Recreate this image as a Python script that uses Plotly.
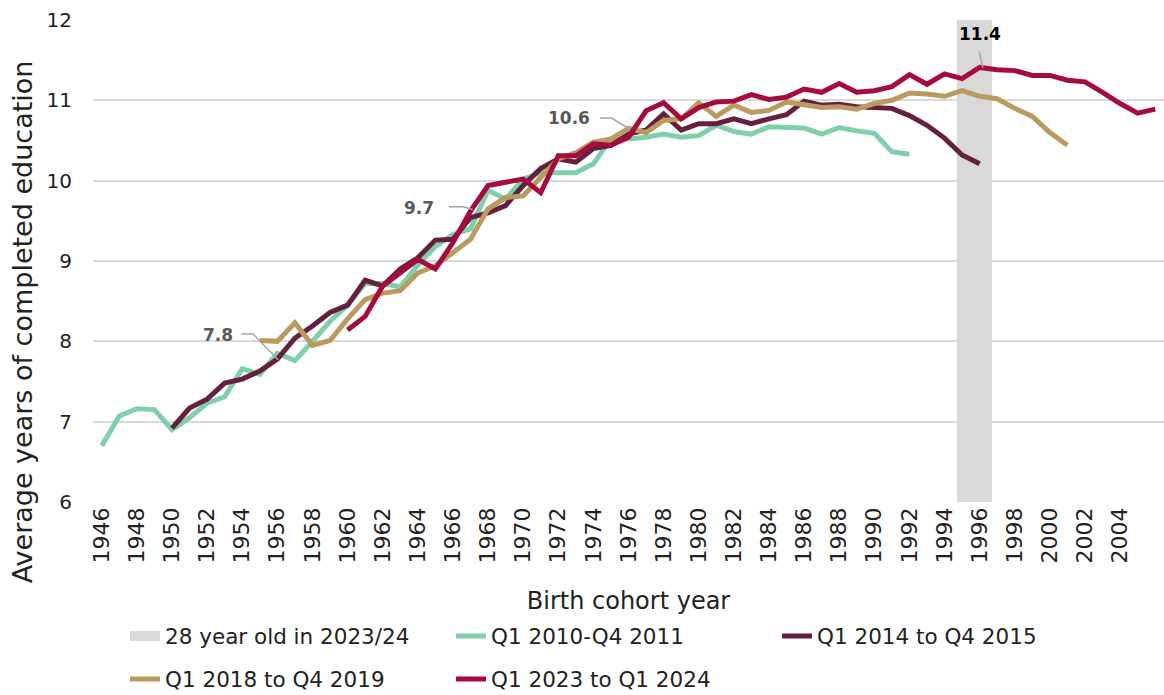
import plotly.graph_objects as go

green_years = list(range(1946, 1993))
green_vals = [6.70, 7.07, 7.16, 7.15, 6.90, 7.05, 7.23, 7.31, 7.66, 7.59,
              7.85, 7.76, 8.00, 8.25, 8.45, 8.72, 8.72, 8.68, 8.95, 9.18,
              9.33, 9.40, 9.88, 9.77, 10.02, 10.10, 10.10, 10.10, 10.21, 10.52,
              10.52, 10.54, 10.58, 10.54, 10.56, 10.69, 10.61, 10.58, 10.67, 10.67,
              10.655, 10.58, 10.66, 10.62, 10.59, 10.36, 10.33]

dark_years = list(range(1950, 1997))
dark_vals = [6.92, 7.17, 7.28, 7.48, 7.53, 7.63, 7.78, 8.04, 8.19, 8.36,
             8.45, 8.76, 8.69, 8.90, 9.04, 9.26, 9.27, 9.54, 9.60, 9.69,
             9.94, 10.15, 10.27, 10.23, 10.40, 10.44, 10.58, 10.63, 10.83, 10.63,
             10.71, 10.71, 10.77, 10.71, 10.77, 10.82, 10.99, 10.94, 10.95, 10.92,
             10.91, 10.90, 10.81, 10.69, 10.53, 10.32, 10.21]

tan_years = list(range(1955, 2002))
tan_vals = [8.01, 8.00, 8.23, 7.95, 8.01, 8.28, 8.52, 8.60, 8.63, 8.85,
            8.94, 9.10, 9.27, 9.65, 9.79, 9.81, 10.04, 10.27, 10.35, 10.48,
            10.52, 10.65, 10.60, 10.75, 10.77, 10.97, 10.80, 10.94, 10.85, 10.875,
            10.98, 10.94, 10.91, 10.92, 10.89, 10.96, 11.00, 11.09, 11.08, 11.05,
            11.12, 11.05, 11.02, 10.90, 10.80, 10.60, 10.44]

red_years = list(range(1960, 2007))
red_vals = [8.14, 8.31, 8.69, 8.85, 9.02, 8.90, 9.23, 9.62, 9.94, 9.98,
            10.02, 9.85, 10.31, 10.31, 10.46, 10.44, 10.54, 10.87, 10.97, 10.77,
            10.91, 10.98, 10.99, 11.07, 11.01, 11.04, 11.14, 11.10, 11.21, 11.10,
            11.12, 11.17, 11.32, 11.20, 11.33, 11.27, 11.41, 11.38, 11.37, 11.31,
            11.31, 11.25, 11.23, 11.10, 10.96, 10.84, 10.89]

band_x = [1994.7, 1996.7]
y_range = [6, 12]
y_ticks = [6, 7, 8, 9, 10, 11, 12]
tick_years = list(range(1946, 2005, 2))

names = ["28 year old in 2023/24", "Q1 2010-Q4 2011", "Q1 2014 to Q4 2015",
         "Q1 2018 to Q4 2019", "Q1 2023 to Q1 2024"]
colors = {"band": "#d9d9d9", "green": "#7fcfab", "dark": "#64203e",
          "tan": "#bb9a60", "red": "#a50b3c"}

FONT = "DejaVu Sans"
TXT = "#222222"

fig = go.Figure()

# shaded band (28 year olds in 2023/24)
fig.add_trace(go.Scatter(
    x=[band_x[0], band_x[1], band_x[1], band_x[0], band_x[0]],
    y=[y_range[0], y_range[0], y_range[1], y_range[1], y_range[0]],
    fill="toself", fillcolor=colors["band"], line=dict(width=0),
    mode="lines", showlegend=False, hoverinfo="skip"))
fig.add_trace(go.Scatter(
    x=[None], y=[None], mode="lines", name=names[0], legend="legend",
    line=dict(color=colors["band"], width=14)))

series = [(green_years, green_vals, "green", names[1], "legend"),
          (dark_years, dark_vals, "dark", names[2], "legend"),
          (tan_years, tan_vals, "tan", names[3], "legend2"),
          (red_years, red_vals, "red", names[4], "legend2")]
for yrs, vals, key, nm, lg in series:
    fig.add_trace(go.Scatter(x=yrs, y=vals, mode="lines", name=nm, legend=lg,
                             line=dict(color=colors[key], width=5)))

# annotation labels with leader lines
labels = [
    dict(text="7.8", x=1952.6, y=8.08, color="#595959",
         path=[(1953.96, 8.09), (1954.62, 8.09), (1956.04, 7.77)]),
    dict(text="9.7", x=1964.05, y=9.665, color="#595959",
         path=[(1965.78, 9.674), (1966.58, 9.674), (1967.12, 9.64)]),
    dict(text="10.6", x=1972.6, y=10.785, color="#595959",
         path=[(1974.37, 10.78), (1975.04, 10.78), (1976.08, 10.64)]),
    dict(text="11.4", x=1996.0, y=11.82, color="#000000",
         path=[(1995.98, 11.61), (1996.18, 11.405)]),
]
for lb in labels:
    fig.add_annotation(x=lb["x"], y=lb["y"], text="<b>" + lb["text"] + "</b>",
                       showarrow=False, font=dict(family=FONT, size=17, color=lb["color"]))
    p = "M " + " L ".join(f"{a},{b}" for a, b in lb["path"])
    fig.add_shape(type="path", path=p, xref="x", yref="y",
                  line=dict(color="#a6a6a6", width=1.5))

# y axis title (placed lower than the plot centre, as in the original)
fig.add_annotation(xref="paper", yref="paper", x=-0.066, y=0.3734,
                   xanchor="center", yanchor="middle", textangle=-90,
                   text="Average years of completed education", showarrow=False,
                   font=dict(family=FONT, size=27, color=TXT))

legend_style = dict(orientation="h", xanchor="left", yanchor="middle",
                    xref="container", yref="container",
                    font=dict(family=FONT, size=21.5, color=TXT),
                    entrywidth=281, entrywidthmode="pixels", bgcolor="rgba(0,0,0,0)")

fig.update_layout(
    width=1164, height=695,
    margin=dict(l=93, r=0, t=20, b=193, autoexpand=False),
    plot_bgcolor="white", paper_bgcolor="white",
    font=dict(family=FONT, color=TXT),
    showlegend=True,
    legend=dict(x=0.1074, y=1 - 636 / 695, **legend_style),
    legend2=dict(x=0.1074, y=1 - 679 / 695, **legend_style),
)
fig.update_xaxes(
    range=[1945.5, 2006.5], tickmode="array", tickvals=tick_years,
    ticktext=[str(t) for t in tick_years], tickangle=-90,
    tickfont=dict(family=FONT, size=22, color=TXT),
    showgrid=False, zeroline=False, showline=False, ticks="",
    title=dict(text="Birth cohort year", font=dict(family=FONT, size=24, color=TXT),
               standoff=37))
fig.update_yaxes(
    range=y_range, tickvals=y_ticks,
    tickfont=dict(family=FONT, size=20, color=TXT),
    showgrid=True, gridcolor="#d9d9d9", gridwidth=1.5, zeroline=False,
    showline=False, ticks="", ticklabelstandoff=20)

fig.write_html("out.html", config={"displayModeBar": False},
               post_script="document.body.style.margin='0px';")
